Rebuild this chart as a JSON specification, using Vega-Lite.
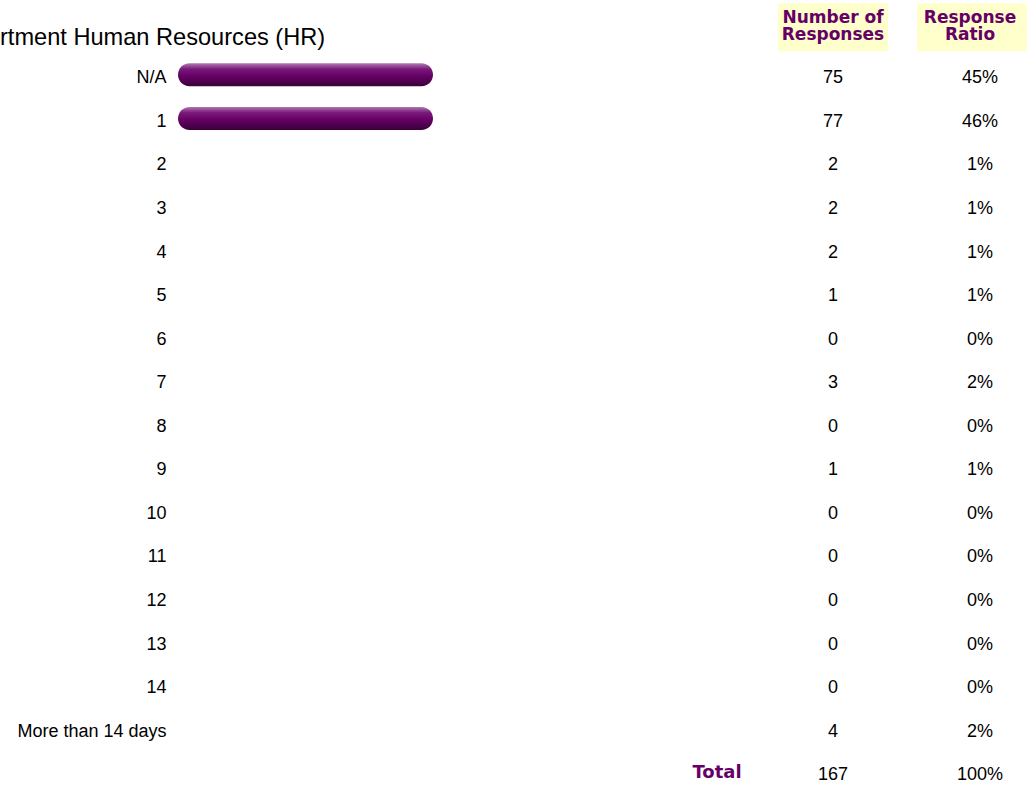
{
  "$schema": "https://vega.github.io/schema/vega-lite/v6.json",
  "padding": {"left": 0, "top": 3, "right": 0, "bottom": 0},
  "autosize": {"type": "pad"},
  "background": "white",
  "config": {
    "view": {"stroke": null},
    "font": "Liberation Sans",
    "text": {"font": "Liberation Sans", "fontSize": 18, "color": "#000000"}
  },
  "datasets": {
    "rows": [
      {"answer": "N/A", "count": 75, "ratio": 0.45},
      {"answer": "1", "count": 77, "ratio": 0.46},
      {"answer": "2", "count": 2, "ratio": 0.01},
      {"answer": "3", "count": 2, "ratio": 0.01},
      {"answer": "4", "count": 2, "ratio": 0.01},
      {"answer": "5", "count": 1, "ratio": 0.01},
      {"answer": "6", "count": 0, "ratio": 0},
      {"answer": "7", "count": 3, "ratio": 0.02},
      {"answer": "8", "count": 0, "ratio": 0},
      {"answer": "9", "count": 1, "ratio": 0.01},
      {"answer": "10", "count": 0, "ratio": 0},
      {"answer": "11", "count": 0, "ratio": 0},
      {"answer": "12", "count": 0, "ratio": 0},
      {"answer": "13", "count": 0, "ratio": 0},
      {"answer": "14", "count": 0, "ratio": 0},
      {"answer": "More than 14 days", "count": 4, "ratio": 0.02},
      {"answer": "Total", "count": 167, "ratio": 1}
    ]
  },
  "spacing": 29,
  "hconcat": [
    {
      "width": 478,
      "height": 784,
      "title": {
        "text": "rtment Human Resources (HR)",
        "anchor": "start",
        "frame": "bounds",
        "font": "Liberation Sans",
        "fontSize": 23.6,
        "fontWeight": "normal",
        "color": "#000000",
        "baseline": "alphabetic",
        "offset": -55.3
      },
      "data": {"name": "rows"},
      "transform": [{"filter": "datum.answer != 'Total'"}],
      "mark": {
        "type": "bar",
        "height": 23,
        "cornerRadius": 11.5,
        "yOffset": -3.5,
        "color": {
          "gradient": "linear",
          "x1": 0, "y1": 0, "x2": 0, "y2": 1,
          "stops": [
            {"offset": 0, "color": "#b07ab0"},
            {"offset": 0.25, "color": "#7a1a7a"},
            {"offset": 0.55, "color": "#660066"},
            {"offset": 1, "color": "#3a003a"}
          ]
        }
      },
      "encoding": {
        "y": {
          "field": "answer",
          "type": "nominal",
          "scale": {
            "domain": ["header", "N/A", "1", "2", "3", "4", "5", "6", "7", "8", "9", "10", "11", "12", "13", "14", "More than 14 days", "Total"],
            "paddingInner": 0,
            "paddingOuter": 0
          },
          "axis": {
            "title": null,
            "domain": false,
            "ticks": false,
            "grid": false,
            "labelPadding": 12,
            "minExtent": 178,
            "labelFont": "Liberation Sans",
            "labelFontSize": 18,
            "labelColor": "#000000",
            "labelLimit": 400,
            "labelExpr": "datum.value == 'header' || datum.value == 'Total' ? '' : datum.value"
          }
        },
        "x": {
          "field": "ratio",
          "type": "quantitative",
          "scale": {"domain": [0.02, 0.45], "range": [0, 255], "clamp": true, "zero": false, "nice": false},
          "axis": null
        },
        "x2": {"datum": 0.02}
      }
    },
    {
      "width": 64,
      "height": 784,
      "data": {"name": "rows"},
      "transform": [{"filter": "datum.answer == 'Total'"}],
      "mark": {"type": "text", "font": "DejaVu Sans", "fontWeight": "bold", "fontSize": 18, "color": "#660066", "dy": -2.5},
      "encoding": {
        "y": {
          "field": "answer",
          "type": "nominal",
          "scale": {
            "domain": ["header", "N/A", "1", "2", "3", "4", "5", "6", "7", "8", "9", "10", "11", "12", "13", "14", "More than 14 days", "Total"],
            "paddingInner": 0,
            "paddingOuter": 0
          },
          "axis": null
        },
        "text": {"field": "answer", "type": "nominal"}
      }
    },
    {
      "width": 110,
      "height": 784,
      "layer": [
        {
          "data": {"values": [{}]},
          "mark": {"type": "rect", "color": "#FFFFCC", "height": 48, "yOffset": -7.5},
          "encoding": {
            "y": {
              "datum": "header",
              "type": "nominal",
              "scale": {
                "domain": ["header", "N/A", "1", "2", "3", "4", "5", "6", "7", "8", "9", "10", "11", "12", "13", "14", "More than 14 days", "Total"],
                "paddingInner": 0,
                "paddingOuter": 0
              },
              "axis": null
            }
          }
        },
        {
          "data": {"values": [{}]},
          "mark": {"type": "text", "font": "DejaVu Sans", "fontWeight": "bold", "fontSize": 17, "color": "#660066", "baseline": "alphabetic", "lineHeight": 17, "dy": -11.5},
          "encoding": {
            "y": {"datum": "header", "type": "nominal", "axis": null},
            "text": {"value": ["Number of", "Responses"]}
          }
        },
        {
          "data": {"name": "rows"},
          "mark": {"type": "text"},
          "encoding": {
            "y": {"field": "answer", "type": "nominal", "axis": null},
            "text": {"field": "count", "type": "quantitative"}
          }
        }
      ]
    },
    {
      "width": 110,
      "height": 784,
      "layer": [
        {
          "data": {"values": [{}]},
          "mark": {"type": "rect", "color": "#FFFFCC", "height": 48, "yOffset": -7.5},
          "encoding": {
            "y": {
              "datum": "header",
              "type": "nominal",
              "scale": {
                "domain": ["header", "N/A", "1", "2", "3", "4", "5", "6", "7", "8", "9", "10", "11", "12", "13", "14", "More than 14 days", "Total"],
                "paddingInner": 0,
                "paddingOuter": 0
              },
              "axis": null
            }
          }
        },
        {
          "data": {"values": [{}]},
          "mark": {"type": "text", "font": "DejaVu Sans", "fontWeight": "bold", "fontSize": 17, "color": "#660066", "baseline": "alphabetic", "lineHeight": 17, "dy": -11.5, "dx": -2},
          "encoding": {
            "y": {"datum": "header", "type": "nominal", "axis": null},
            "text": {"value": ["Response", "Ratio"]}
          }
        },
        {
          "data": {"name": "rows"},
          "mark": {"type": "text", "xOffset": 8},
          "encoding": {
            "y": {"field": "answer", "type": "nominal", "axis": null},
            "text": {"field": "ratio", "type": "quantitative", "format": ".0%"}
          }
        }
      ]
    }
  ]
}
